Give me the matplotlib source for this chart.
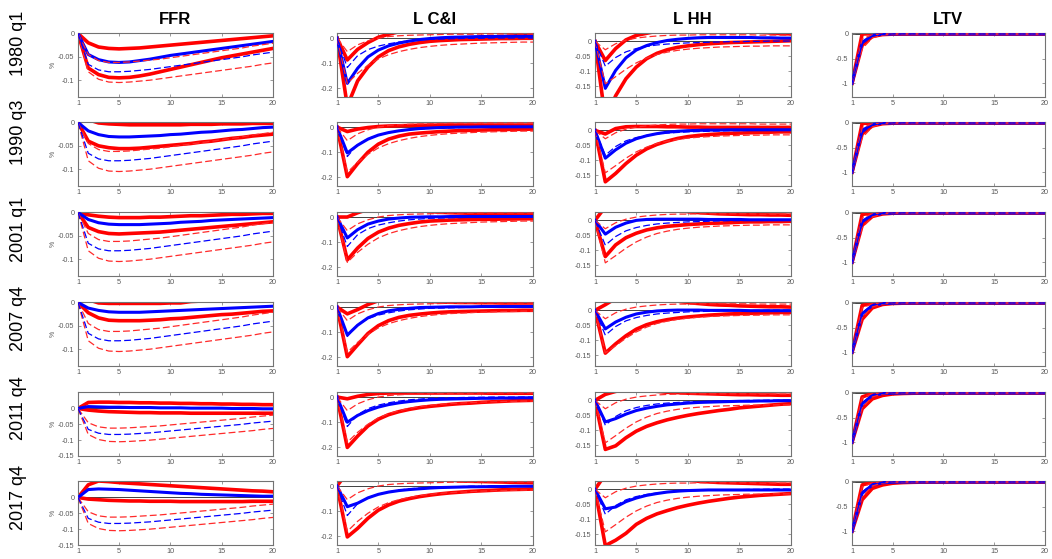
import numpy as np
import matplotlib.pyplot as plt

plt.rcParams['font.family'] = ['Liberation Sans', 'DejaVu Sans']

h = np.arange(1, 21)
dates = ['1980 q1', '1990 q3', '2001 q1', '2007 q4', '2011 q4', '2017 q4']
titles = ['FFR', 'L C&I', 'L HH', 'LTV']

# ---- FFR ----
ffr_dash_med = [0, -0.066, -0.078, -0.082, -0.082, -0.081, -0.079, -0.077, -0.074, -0.071, -0.068, -0.065, -0.062, -0.059, -0.056, -0.053, -0.050, -0.046, -0.043, -0.040]
ffr_dash_hi = [0, -0.045, -0.058, -0.062, -0.062, -0.061, -0.059, -0.057, -0.055, -0.052, -0.049, -0.046, -0.043, -0.040, -0.037, -0.034, -0.031, -0.027, -0.024, -0.021]
ffr_dash_lo = [0, -0.082, -0.098, -0.104, -0.105, -0.104, -0.102, -0.100, -0.097, -0.094, -0.091, -0.088, -0.085, -0.082, -0.079, -0.076, -0.073, -0.070, -0.066, -0.063]
ffr_med = [
    [0, -0.045, -0.056, -0.061, -0.062, -0.061, -0.058, -0.055, -0.051, -0.047, -0.044, -0.041, -0.038, -0.035, -0.032, -0.029, -0.026, -0.023, -0.020, -0.017],
    [0, -0.018, -0.026, -0.030, -0.031, -0.031, -0.030, -0.029, -0.028, -0.026, -0.025, -0.023, -0.021, -0.020, -0.018, -0.016, -0.015, -0.013, -0.011, -0.010],
    [0, -0.015, -0.022, -0.025, -0.026, -0.026, -0.026, -0.025, -0.024, -0.023, -0.021, -0.020, -0.019, -0.017, -0.016, -0.015, -0.014, -0.013, -0.012, -0.011],
    [0, -0.012, -0.017, -0.020, -0.021, -0.021, -0.021, -0.020, -0.019, -0.018, -0.017, -0.016, -0.015, -0.014, -0.013, -0.012, -0.011, -0.010, -0.009, -0.008],
    [0, 0.006, 0.005, 0.004, 0.004, 0.003, 0.003, 0.003, 0.002, 0.002, 0.002, 0.001, 0.001, 0.001, 0.001, 0.000, 0.000, 0.000, -0.001, -0.001],
    [0, 0.025, 0.027, 0.026, 0.025, 0.023, 0.021, 0.019, 0.017, 0.015, 0.013, 0.012, 0.010, 0.009, 0.008, 0.007, 0.006, 0.005, 0.004, 0.004],
]
ffr_hi = [
    [0, -0.020, -0.029, -0.032, -0.033, -0.032, -0.031, -0.029, -0.027, -0.025, -0.023, -0.021, -0.019, -0.017, -0.015, -0.013, -0.011, -0.009, -0.007, -0.005],
    [0, 0.006, -0.001, -0.003, -0.004, -0.005, -0.005, -0.005, -0.005, -0.005, -0.005, -0.004, -0.004, -0.004, -0.003, -0.003, -0.003, -0.002, -0.002, -0.002],
    [0, -0.005, -0.008, -0.010, -0.011, -0.011, -0.011, -0.010, -0.010, -0.009, -0.008, -0.007, -0.007, -0.006, -0.005, -0.004, -0.004, -0.003, -0.002, -0.002],
    [0, 0.006, -0.001, -0.002, -0.002, -0.002, -0.002, -0.002, -0.002, -0.001, -0.001, 0.002, 0.003, 0.004, 0.004, 0.005, 0.005, 0.006, 0.006, 0.006],
    [0, 0.019, 0.020, 0.020, 0.019, 0.019, 0.018, 0.018, 0.017, 0.017, 0.016, 0.016, 0.015, 0.015, 0.014, 0.014, 0.013, 0.013, 0.012, 0.012],
    [0, 0.040, 0.052, 0.050, 0.047, 0.045, 0.043, 0.041, 0.039, 0.037, 0.035, 0.033, 0.031, 0.029, 0.027, 0.025, 0.023, 0.021, 0.020, 0.018],
]
ffr_lo = [
    [0, -0.074, -0.088, -0.094, -0.095, -0.094, -0.091, -0.087, -0.082, -0.077, -0.072, -0.067, -0.062, -0.057, -0.052, -0.048, -0.044, -0.040, -0.036, -0.032],
    [0, -0.040, -0.050, -0.054, -0.056, -0.056, -0.055, -0.053, -0.051, -0.049, -0.047, -0.045, -0.042, -0.040, -0.037, -0.034, -0.032, -0.029, -0.027, -0.025],
    [0, -0.032, -0.041, -0.045, -0.046, -0.045, -0.044, -0.043, -0.042, -0.040, -0.038, -0.036, -0.034, -0.032, -0.030, -0.028, -0.026, -0.024, -0.022, -0.020],
    [0, -0.022, -0.033, -0.038, -0.039, -0.039, -0.039, -0.038, -0.037, -0.035, -0.034, -0.032, -0.030, -0.028, -0.026, -0.025, -0.023, -0.021, -0.019, -0.018],
    [0, -0.005, -0.008, -0.010, -0.011, -0.012, -0.013, -0.013, -0.014, -0.014, -0.014, -0.015, -0.015, -0.015, -0.015, -0.015, -0.015, -0.015, -0.015, -0.015],
    [0, -0.005, -0.007, -0.009, -0.010, -0.011, -0.011, -0.012, -0.012, -0.012, -0.013, -0.013, -0.013, -0.013, -0.013, -0.013, -0.013, -0.012, -0.012, -0.012],
]

# ---- L C&I ----
lci_dash_med = [0, -0.117, -0.070, -0.046, -0.032, -0.023, -0.016, -0.011, -0.008, -0.005, -0.004, -0.003, -0.002, -0.001, -0.001, 0.000, 0.000, 0.000, 0.000, 0.000]
lci_dash_hi = [0, -0.054, -0.027, -0.011, 0.000, 0.006, 0.009, 0.011, 0.012, 0.013, 0.014, 0.015, 0.015, 0.015, 0.016, 0.016, 0.016, 0.016, 0.016, 0.016]
lci_dash_lo = [0, -0.180, -0.140, -0.108, -0.083, -0.066, -0.054, -0.045, -0.038, -0.033, -0.029, -0.026, -0.024, -0.022, -0.020, -0.019, -0.018, -0.017, -0.016, -0.016]
lci_med = [
    [0, -0.180, -0.120, -0.075, -0.048, -0.031, -0.020, -0.012, -0.006, -0.002, 0.001, 0.003, 0.004, 0.005, 0.006, 0.006, 0.007, 0.007, 0.007, 0.007],
    [0, -0.103, -0.072, -0.048, -0.032, -0.022, -0.015, -0.010, -0.006, -0.004, -0.002, -0.001, 0.000, 0.000, 0.001, 0.001, 0.001, 0.001, 0.001, 0.001],
    [0, -0.083, -0.050, -0.028, -0.016, -0.008, -0.004, -0.001, 0.000, 0.001, 0.001, 0.002, 0.002, 0.002, 0.002, 0.002, 0.002, 0.002, 0.002, 0.002],
    [0, -0.111, -0.072, -0.043, -0.026, -0.015, -0.009, -0.005, -0.002, -0.001, 0.000, 0.001, 0.001, 0.001, 0.002, 0.002, 0.002, 0.002, 0.002, 0.002],
    [0, -0.100, -0.073, -0.054, -0.040, -0.030, -0.023, -0.018, -0.014, -0.011, -0.009, -0.008, -0.007, -0.006, -0.005, -0.005, -0.004, -0.004, -0.003, -0.003],
    [0, -0.082, -0.068, -0.047, -0.033, -0.024, -0.018, -0.014, -0.011, -0.008, -0.006, -0.005, -0.004, -0.003, -0.003, -0.002, -0.002, -0.001, -0.001, -0.001],
]
lci_hi = [
    [0, -0.087, -0.045, -0.018, 0.003, 0.015, 0.025, 0.031, 0.034, 0.035, 0.034, 0.033, 0.031, 0.029, 0.027, 0.025, 0.023, 0.020, 0.018, 0.016],
    [0, -0.018, -0.008, -0.002, 0.002, 0.004, 0.005, 0.006, 0.007, 0.007, 0.008, 0.008, 0.008, 0.008, 0.008, 0.008, 0.008, 0.008, 0.008, 0.008],
    [0, 0.000, 0.017, 0.030, 0.036, 0.037, 0.035, 0.031, 0.027, 0.022, 0.019, 0.017, 0.016, 0.015, 0.014, 0.014, 0.013, 0.013, 0.012, 0.012],
    [0, -0.027, -0.010, 0.010, 0.025, 0.033, 0.036, 0.035, 0.030, 0.022, 0.020, 0.019, 0.018, 0.018, 0.017, 0.017, 0.016, 0.016, 0.016, 0.016],
    [0, -0.007, 0.003, 0.010, 0.014, 0.016, 0.016, 0.016, 0.016, 0.016, 0.016, 0.016, 0.016, 0.016, 0.016, 0.015, 0.015, 0.015, 0.015, 0.015],
    [0, 0.055, 0.065, 0.062, 0.057, 0.051, 0.045, 0.039, 0.034, 0.030, 0.027, 0.024, 0.020, 0.019, 0.018, 0.017, 0.016, 0.015, 0.014, 0.013],
]
lci_lo = [
    [0, -0.270, -0.170, -0.115, -0.075, -0.050, -0.035, -0.025, -0.018, -0.013, -0.010, -0.008, -0.006, -0.005, -0.004, -0.003, -0.002, -0.002, -0.001, -0.001],
    [0, -0.197, -0.145, -0.100, -0.068, -0.048, -0.036, -0.028, -0.024, -0.021, -0.018, -0.016, -0.014, -0.013, -0.012, -0.011, -0.010, -0.009, -0.009, -0.008],
    [0, -0.170, -0.123, -0.085, -0.060, -0.044, -0.033, -0.026, -0.020, -0.016, -0.014, -0.012, -0.011, -0.010, -0.009, -0.009, -0.008, -0.008, -0.007, -0.007],
    [0, -0.197, -0.150, -0.105, -0.074, -0.054, -0.041, -0.033, -0.028, -0.024, -0.021, -0.019, -0.018, -0.017, -0.016, -0.015, -0.014, -0.014, -0.013, -0.013],
    [0, -0.200, -0.155, -0.115, -0.088, -0.070, -0.058, -0.049, -0.042, -0.037, -0.033, -0.029, -0.026, -0.024, -0.021, -0.019, -0.017, -0.015, -0.014, -0.013],
    [0, -0.202, -0.168, -0.128, -0.096, -0.075, -0.060, -0.050, -0.042, -0.036, -0.031, -0.027, -0.024, -0.021, -0.019, -0.017, -0.015, -0.014, -0.013, -0.012],
]

# ---- L HH ----
lhh_dash_med = [0, -0.083, -0.054, -0.035, -0.024, -0.017, -0.012, -0.009, -0.007, -0.005, -0.004, -0.003, -0.002, -0.001, -0.001, 0.000, 0.000, 0.001, 0.001, 0.001]
lhh_dash_hi = [0, -0.028, -0.008, 0.004, 0.011, 0.015, 0.018, 0.020, 0.021, 0.021, 0.022, 0.022, 0.022, 0.022, 0.022, 0.022, 0.021, 0.021, 0.021, 0.021]
lhh_dash_lo = [0, -0.142, -0.118, -0.093, -0.072, -0.056, -0.044, -0.036, -0.030, -0.026, -0.023, -0.021, -0.019, -0.018, -0.017, -0.016, -0.016, -0.015, -0.015, -0.015]
lhh_med = [
    [0, -0.157, -0.097, -0.055, -0.029, -0.014, -0.004, 0.003, 0.007, 0.010, 0.012, 0.013, 0.013, 0.013, 0.013, 0.013, 0.012, 0.012, 0.011, 0.011],
    [0, -0.093, -0.065, -0.043, -0.028, -0.018, -0.011, -0.006, -0.003, -0.001, 0.000, 0.001, 0.001, 0.002, 0.002, 0.002, 0.002, 0.002, 0.002, 0.002],
    [0, -0.046, -0.023, -0.009, 0.000, 0.003, 0.004, 0.004, 0.004, 0.004, 0.004, 0.003, 0.003, 0.003, 0.003, 0.002, 0.002, 0.002, 0.002, 0.002],
    [0, -0.062, -0.039, -0.023, -0.012, -0.006, -0.002, 0.000, 0.001, 0.001, 0.001, 0.000, 0.000, 0.000, 0.000, -0.001, -0.001, -0.001, -0.001, -0.001],
    [0, -0.072, -0.061, -0.046, -0.034, -0.026, -0.020, -0.015, -0.012, -0.009, -0.007, -0.006, -0.005, -0.004, -0.003, -0.003, -0.002, -0.002, -0.001, -0.001],
    [0, -0.065, -0.059, -0.041, -0.029, -0.020, -0.014, -0.009, -0.006, -0.004, -0.003, -0.002, -0.002, -0.002, -0.002, -0.002, -0.002, -0.002, -0.002, -0.002],
]
lhh_hi = [
    [0, -0.064, -0.024, 0.005, 0.020, 0.027, 0.034, 0.038, 0.040, 0.041, 0.041, 0.040, 0.039, 0.038, 0.036, 0.034, 0.031, 0.028, 0.026, 0.025],
    [0, -0.012, 0.006, 0.012, 0.013, 0.013, 0.013, 0.012, 0.012, 0.011, 0.011, 0.010, 0.010, 0.010, 0.010, 0.010, 0.010, 0.010, 0.010, 0.010],
    [0, 0.045, 0.060, 0.062, 0.060, 0.056, 0.050, 0.043, 0.036, 0.029, 0.026, 0.024, 0.022, 0.021, 0.020, 0.019, 0.019, 0.018, 0.018, 0.017],
    [0, 0.019, 0.040, 0.050, 0.052, 0.050, 0.045, 0.038, 0.031, 0.026, 0.023, 0.020, 0.018, 0.017, 0.015, 0.014, 0.013, 0.012, 0.012, 0.011],
    [0, 0.020, 0.030, 0.036, 0.037, 0.035, 0.030, 0.027, 0.026, 0.024, 0.023, 0.022, 0.021, 0.020, 0.019, 0.019, 0.018, 0.018, 0.017, 0.017],
    [0, 0.050, 0.065, 0.068, 0.066, 0.062, 0.056, 0.049, 0.041, 0.033, 0.027, 0.025, 0.023, 0.022, 0.021, 0.020, 0.019, 0.018, 0.017, 0.017],
]
lhh_lo = [
    [0, -0.260, -0.182, -0.125, -0.086, -0.058, -0.040, -0.028, -0.020, -0.015, -0.011, -0.008, -0.006, -0.004, -0.003, -0.002, -0.001, 0.000, 0.001, 0.002],
    [0, -0.172, -0.144, -0.111, -0.083, -0.062, -0.047, -0.036, -0.027, -0.021, -0.017, -0.014, -0.012, -0.010, -0.009, -0.008, -0.007, -0.006, -0.005, -0.005],
    [0, -0.121, -0.082, -0.058, -0.043, -0.032, -0.025, -0.020, -0.017, -0.014, -0.012, -0.010, -0.009, -0.008, -0.006, -0.005, -0.005, -0.004, -0.004, -0.003],
    [0, -0.143, -0.112, -0.085, -0.063, -0.048, -0.038, -0.031, -0.026, -0.022, -0.019, -0.016, -0.014, -0.012, -0.011, -0.010, -0.009, -0.008, -0.007, -0.007],
    [0, -0.164, -0.152, -0.125, -0.103, -0.087, -0.075, -0.065, -0.057, -0.050, -0.044, -0.039, -0.034, -0.030, -0.025, -0.022, -0.019, -0.016, -0.013, -0.011],
    [0, -0.188, -0.170, -0.147, -0.117, -0.097, -0.082, -0.071, -0.061, -0.053, -0.046, -0.040, -0.035, -0.030, -0.026, -0.023, -0.020, -0.018, -0.016, -0.014],
]

# ---- LTV ----
ltv_dash_med = [-1, -0.20, -0.040, -0.008, 0.000, 0.002, 0.002, 0.001, 0.001, 0.001, 0.001, 0.001, 0.000, 0.000, 0.000, 0.000, 0.000, 0.000, 0.000, 0.000]
ltv_dash_hi = [-1, -0.10, -0.015, 0.000, 0.003, 0.003, 0.002, 0.002, 0.001, 0.001, 0.001, 0.001, 0.001, 0.000, 0.000, 0.000, 0.000, 0.000, 0.000, 0.000]
ltv_dash_lo = [-1, -0.30, -0.080, -0.020, -0.005, -0.002, -0.001, 0.000, 0.000, 0.000, 0.000, 0.000, 0.000, 0.000, 0.000, 0.000, 0.000, 0.000, 0.000, 0.000]
ltv_med = [
    [-1, -0.17, -0.030, -0.005, 0.000, 0.002, 0.002, 0.002, 0.001, 0.001, 0.001, 0.001, 0.001, 0.000, 0.000, 0.000, 0.000, 0.000, 0.000, 0.000],
    [-1, -0.15, -0.030, -0.005, 0.000, 0.002, 0.002, 0.001, 0.001, 0.001, 0.001, 0.000, 0.000, 0.000, 0.000, 0.000, 0.000, 0.000, 0.000, 0.000],
    [-1, -0.17, -0.040, -0.010, -0.002, 0.000, 0.001, 0.001, 0.001, 0.001, 0.000, 0.000, 0.000, 0.000, 0.000, 0.000, 0.000, 0.000, 0.000, 0.000],
    [-1, -0.22, -0.050, -0.012, -0.003, 0.000, 0.001, 0.001, 0.001, 0.000, 0.000, 0.000, 0.000, 0.000, 0.000, 0.000, 0.000, 0.000, 0.000, 0.000],
    [-1, -0.22, -0.050, -0.012, -0.003, -0.001, 0.000, 0.000, 0.000, 0.000, 0.000, 0.000, 0.000, 0.000, 0.000, 0.000, 0.000, 0.000, 0.000, 0.000],
    [-1, -0.23, -0.060, -0.015, -0.004, -0.001, 0.000, 0.000, 0.000, 0.000, 0.000, 0.000, 0.000, 0.000, 0.000, 0.000, 0.000, 0.000, 0.000, 0.000],
]
ltv_hi = [
    [-1, 0.000, 0.004, 0.004, 0.003, 0.003, 0.002, 0.002, 0.002, 0.001, 0.001, 0.001, 0.001, 0.001, 0.001, 0.000, 0.000, 0.000, 0.000, 0.000],
    [-1, -0.010, 0.003, 0.003, 0.003, 0.002, 0.002, 0.002, 0.001, 0.001, 0.001, 0.001, 0.001, 0.000, 0.000, 0.000, 0.000, 0.000, 0.000, 0.000],
    [-1, -0.030, 0.000, 0.003, 0.003, 0.002, 0.002, 0.001, 0.001, 0.001, 0.001, 0.000, 0.000, 0.000, 0.000, 0.000, 0.000, 0.000, 0.000, 0.000],
    [-1, -0.050, -0.005, 0.002, 0.002, 0.002, 0.001, 0.001, 0.001, 0.000, 0.000, 0.000, 0.000, 0.000, 0.000, 0.000, 0.000, 0.000, 0.000, 0.000],
    [-1, -0.080, -0.010, 0.000, 0.002, 0.002, 0.001, 0.001, 0.001, 0.000, 0.000, 0.000, 0.000, 0.000, 0.000, 0.000, 0.000, 0.000, 0.000, 0.000],
    [-1, -0.060, -0.005, 0.001, 0.002, 0.002, 0.001, 0.001, 0.001, 0.000, 0.000, 0.000, 0.000, 0.000, 0.000, 0.000, 0.000, 0.000, 0.000, 0.000],
]
ltv_lo = [
    [-1, -0.23, -0.050, -0.012, -0.003, -0.001, 0.000, 0.000, 0.000, 0.000, 0.000, 0.000, 0.000, 0.000, 0.000, 0.000, 0.000, 0.000, 0.000, 0.000],
    [-1, -0.22, -0.060, -0.015, -0.004, -0.001, 0.000, 0.000, 0.000, 0.000, 0.000, 0.000, 0.000, 0.000, 0.000, 0.000, 0.000, 0.000, 0.000, 0.000],
    [-1, -0.25, -0.070, -0.020, -0.005, -0.002, -0.001, 0.000, 0.000, 0.000, 0.000, 0.000, 0.000, 0.000, 0.000, 0.000, 0.000, 0.000, 0.000, 0.000],
    [-1, -0.33, -0.100, -0.030, -0.010, -0.004, -0.002, -0.001, 0.000, 0.000, 0.000, 0.000, 0.000, 0.000, 0.000, 0.000, 0.000, 0.000, 0.000, 0.000],
    [-1, -0.32, -0.120, -0.050, -0.020, -0.010, -0.005, -0.003, -0.002, -0.001, 0.000, 0.000, 0.000, 0.000, 0.000, 0.000, 0.000, 0.000, 0.000, 0.000],
    [-1, -0.36, -0.130, -0.060, -0.025, -0.012, -0.006, -0.003, -0.002, -0.001, 0.000, 0.000, 0.000, 0.000, 0.000, 0.000, 0.000, 0.000, 0.000, 0.000],
]

columns = [
    (ffr_med, ffr_hi, ffr_lo, ffr_dash_med, ffr_dash_hi, ffr_dash_lo),
    (lci_med, lci_hi, lci_lo, lci_dash_med, lci_dash_hi, lci_dash_lo),
    (lhh_med, lhh_hi, lhh_lo, lhh_dash_med, lhh_dash_hi, lhh_dash_lo),
    (ltv_med, ltv_hi, ltv_lo, ltv_dash_med, ltv_dash_hi, ltv_dash_lo),
]

# y ranges and ticks for each column (FFR changes scale in the last two rows)
def y_setup(r, c):
    if c == 0:
        if r < 4:
            return (-0.136, 0.001), [-0.1, -0.05, 0]
        return (-0.15, 0.052), [-0.15, -0.1, -0.05, 0]
    if c == 1:
        return (-0.234, 0.02), [-0.2, -0.1, 0]
    if c == 2:
        return (-0.186, 0.028), [-0.15, -0.1, -0.05, 0]
    return (-1.28, 0.02), [-1, -0.5, 0]

W, H = 1052, 559
col_left = [78, 337, 595, 852]
col_w = [195, 196, 196, 193]
row_top = [33, 122, 212, 302, 392, 481]
row_h = 64

fig = plt.figure(figsize=(W / 100, H / 100), dpi=100)

for r in range(6):
    for c in range(4):
        med, hi, lo, dmed, dhi, dlo = columns[c]
        ax = fig.add_axes([col_left[c] / W, 1 - (row_top[r] + row_h) / H, col_w[c] / W, row_h / H])
        ax.axhline(0, color='0.25', lw=0.7, zorder=1)
        ax.plot(h, hi[r], color='#ff0000', lw=2.6, zorder=2)
        ax.plot(h, lo[r], color='#ff0000', lw=2.6, zorder=2)
        ax.plot(h, med[r], color='#0000ff', lw=2.2, zorder=3)
        ax.plot(h, dhi, color='#ff2a2a', lw=0.9, dashes=(5.5, 2.5), zorder=4)
        ax.plot(h, dlo, color='#ff2a2a', lw=0.9, dashes=(5.5, 2.5), zorder=4)
        ax.plot(h, dmed, color='#0000ff', lw=0.9, dashes=(5.5, 2.5), zorder=5)

        ylim, yt = y_setup(r, c)
        ax.set_xlim(1, 20)
        ax.set_ylim(*ylim)
        ax.set_xticks([1, 5, 10, 15, 20])
        ax.set_xticklabels(['1', '5', '10', '15', '20'])
        ax.set_yticks(yt)
        ax.set_yticklabels(['%g' % t for t in yt])
        ax.tick_params(direction='in', length=2, width=0.5, top=True, right=True,
                       labelsize=5.2, colors='0.45', labelcolor='0.35', pad=2.5)
        for s in ax.spines.values():
            s.set_color('0.45')
            s.set_linewidth(0.8)
        if c == 0:
            fig.text(53 / W, 1 - (row_top[r] + row_h / 2) / H, '%', fontsize=5,
                     rotation=90, ha='center', va='center', color='0.35')

label_y = [43, 132, 229, 318, 408, 498]
for r in range(6):
    fig.text(19 / W, 1 - label_y[r] / H, dates[r], fontsize=13, rotation=90,
             ha='center', va='center')

title_x = [175, 435, 692, 948]
for c in range(4):
    fig.text(title_x[c] / W, 1 - 20 / H, titles[c], fontsize=12, fontweight='bold',
             ha='center', va='center')

fig.savefig('out.png', dpi=100)
